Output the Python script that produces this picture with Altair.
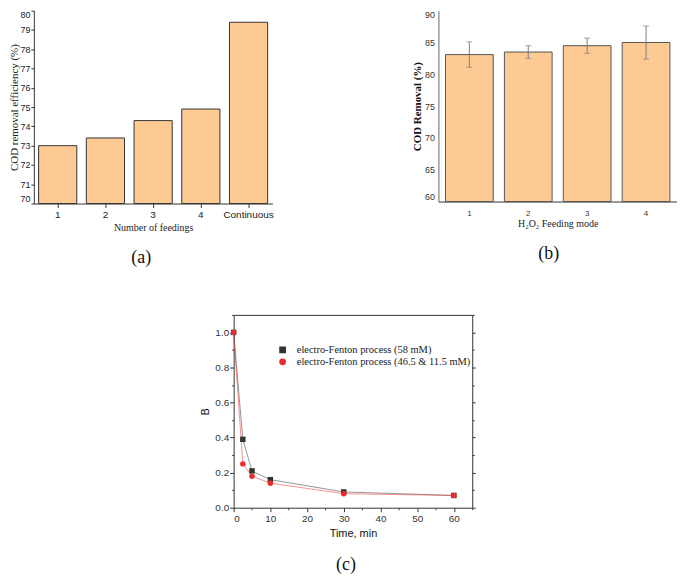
import altair as alt
import pandas as pd

# ---------------- data ----------------
feed_a = ["1", "2", "3", "4", "Continuous"]
eff_a = [73.0, 73.4, 74.3, 74.9, 79.4]

mode_b = ["1", "2", "3", "4"]
cod_b = [83.1, 83.5, 84.5, 85.0]
err_b = [2.0, 1.0, 1.2, 2.6]

time_c = [0, 2.5, 5, 10, 30, 60]
b_58 = [1.0, 0.39, 0.21, 0.16, 0.09, 0.07]
b_mix = [1.0, 0.25, 0.18, 0.14, 0.08, 0.07]
series_c = ["electro-Fenton process (58 mM)",
            "electro-Fenton process (46.5 & 11.5 mM)"]

SANS = "Liberation Sans"
SERIF = "Liberation Serif"
FILL = "#FDCA94"

# ---------------- panel (a) ----------------
df_a = pd.DataFrame({"feed": feed_a, "eff": eff_a})
panel_a = alt.Chart(df_a).mark_bar(fill=FILL, stroke="#333333", strokeWidth=1).encode(
    x=alt.X("feed:N", sort=feed_a,
            scale=alt.Scale(paddingInner=0.2, paddingOuter=0.1),
            axis=alt.Axis(title="Number of feedings", labelAngle=0, labelFont=SANS,
                          labelFontSize=10, labelColor="#222", titleFont=SERIF,
                          titleFontSize=10, titleFontWeight="normal", titleColor="#222",
                          tickSize=4, tickColor="#333", domainColor="#333",
                          labelPadding=2, titlePadding=3)),
    y=alt.Y("eff:Q", scale=alt.Scale(domain=[70, 80], nice=False, zero=False),
            axis=alt.Axis(title="COD removal efficiency (%)", values=list(range(70, 81)),
                          labelFont=SANS, labelFontSize=9, labelColor="#222",
                          titleFont=SERIF, titleFontSize=11, titleFontWeight="normal",
                          titleColor="#222", tickSize=3, tickColor="#333",
                          domainColor="#333", labelPadding=1, titlePadding=0,
                          grid=False, labelFlush=True)),
    y2=alt.datum(70),
).properties(
    width=240, height=194,
    title=alt.TitleParams("(a)", orient="bottom", anchor="middle", font=SERIF,
                          fontSize=18, fontWeight="normal", color="#111", offset=17, dx=-12),
)

# ---------------- panel (b) ----------------
df_b = pd.DataFrame({"mode": mode_b, "cod": cod_b, "err": err_b})
df_b["lo"] = df_b["cod"] - df_b["err"]
df_b["hi"] = df_b["cod"] + df_b["err"]

xb_axis = alt.Axis(title="H₂O₂ Feeding mode", labelAngle=0, labelFont=SANS, labelFontSize=8,
                   labelColor="#333", titleFont=SERIF, titleFontSize=10,
                   titleFontWeight="normal", titleColor="#222", ticks=False,
                   domainColor="#333", labelPadding=8, titlePadding=1)
yb_axis = alt.Axis(title="COD Removal (%)", values=list(range(60, 91, 5)), labelFont=SANS,
                   labelFontSize=9, labelColor="#333", titleFont=SERIF, titleFontSize=11,
                   titleFontWeight="bold", titleColor="#111", ticks=False,
                   domainColor="#666", labelPadding=4, titlePadding=2, grid=False,
                   labelFlush=True)
xb_scale = alt.Scale(paddingInner=0.19, paddingOuter=0.12)
yb_scale = alt.Scale(domain=[60, 90], nice=False, zero=False)

base_b = alt.Chart(df_b)
bars_b = base_b.mark_bar(fill=FILL, stroke="#555555", strokeWidth=1).encode(
    x=alt.X("mode:N", scale=xb_scale, axis=xb_axis),
    y=alt.Y("cod:Q", scale=yb_scale, axis=yb_axis),
    y2=alt.datum(60),
)
rule_b = base_b.mark_rule(color="#808080", strokeWidth=1).encode(
    x=alt.X("mode:N", scale=xb_scale, axis=xb_axis),
    y=alt.Y("lo:Q", scale=yb_scale, axis=yb_axis),
    y2="hi:Q",
)
cap_lo = base_b.mark_tick(color="#808080", size=6, thickness=1).encode(
    x=alt.X("mode:N", scale=xb_scale, axis=xb_axis),
    y=alt.Y("lo:Q", scale=yb_scale, axis=yb_axis),
)
cap_hi = base_b.mark_tick(color="#808080", size=6, thickness=1).encode(
    x=alt.X("mode:N", scale=xb_scale, axis=xb_axis),
    y=alt.Y("hi:Q", scale=yb_scale, axis=yb_axis),
)
panel_b = alt.layer(bars_b, rule_b, cap_lo, cap_hi).properties(
    width=240, height=192,
    title=alt.TitleParams("(b)", orient="bottom", anchor="middle", font=SERIF,
                          fontSize=18, fontWeight="normal", color="#111", offset=17, dx=-9),
)

# ---------------- panel (c) ----------------
df_c = pd.DataFrame({
    "t": time_c + time_c,
    "B": b_58 + b_mix,
    "series": [series_c[0]] * len(time_c) + [series_c[1]] * len(time_c),
})
xc_scale = alt.Scale(domain=[0, 65], nice=False, zero=False)
yc_scale = alt.Scale(domain=[0, 1.1], nice=False, zero=False)
color_c = alt.Scale(domain=series_c, range=["#333333", "#EE2B2B"])
shape_c = alt.Scale(domain=series_c, range=["square", "circle"])

x_vals = list(range(0, 66, 5))
y_vals = [i / 10 for i in range(0, 12)]

xc_axis = alt.Axis(title="Time, min", values=x_vals,
                   labelExpr="datum.value % 10 === 0 ? datum.label : ''",
                   tickSize={"condition": {"test": "datum.value % 10 !== 0", "value": 2}, "value": 4},
                   labelFont=SANS, labelFontSize=10, labelColor="#333", titleFont=SANS,
                   titleFontSize=11, titleFontWeight="normal", titleColor="#111",
                   tickColor="#333", domainColor="#333", labelPadding=2, titlePadding=4,
                   grid=False, format="d")
yc_axis = alt.Axis(title="B", values=y_vals,
                   labelExpr="round(datum.value * 10) % 2 === 0 ? format(datum.value, '.1f') : ''",
                   tickSize={"condition": {"test": "round(datum.value * 10) % 2 !== 0", "value": 2}, "value": 4},
                   labelFont=SANS, labelFontSize=10, labelColor="#333", titleFont=SANS,
                   titleFontSize=11, titleFontWeight="normal", titleColor="#111",
                   tickColor="#333", domainColor="#333", labelPadding=1, titlePadding=4,
                   grid=False)
xc_top = alt.Axis(orient="top", title=None, labels=False, ticks=False, domainColor="#333",
                  grid=False)
yc_right = alt.Axis(orient="right", title=None, labels=False, values=y_vals,
                    tickSize={"condition": {"test": "round(datum.value * 10) % 2 !== 0", "value": 2}, "value": 3},
                    tickColor="#333", domainColor="#333", grid=False)

legend_c = alt.Legend(title=None, orient="none", legendX=44, legendY=30, labelFont=SERIF,
                      labelFontSize=10.5, labelColor="#222", symbolSize=28, rowPadding=0,
                      labelOffset=9, labelLimit=400, symbolOffset=0, padding=0)

lines_c = alt.Chart(df_c).mark_line(strokeWidth=0.8, strokeOpacity=0.65).encode(
    x=alt.X("t:Q", scale=xc_scale, axis=xc_axis),
    y=alt.Y("B:Q", scale=yc_scale, axis=yc_axis),
    color=alt.Color("series:N", scale=color_c, legend=legend_c),
)
points_c = alt.Chart(df_c).mark_point(filled=True, size=30, opacity=1).encode(
    x=alt.X("t:Q", scale=xc_scale, axis=None),
    y=alt.Y("B:Q", scale=yc_scale, axis=None),
    color=alt.Color("series:N", scale=color_c, legend=legend_c),
    shape=alt.Shape("series:N", scale=shape_c, legend=legend_c),
)
frame_c = alt.Chart(df_c).mark_point(opacity=0, size=0).encode(
    x=alt.X("t:Q", scale=xc_scale, axis=xc_top),
    y=alt.Y("B:Q", scale=yc_scale, axis=yc_right),
)
panel_c = alt.layer(lines_c, points_c, frame_c).resolve_axis(
    x="independent", y="independent"
).properties(
    width=240, height=194,
    title=alt.TitleParams("(c)", orient="bottom", anchor="middle", font=SERIF,
                          fontSize=18, fontWeight="normal", color="#111", offset=18, dx=-7),
)

spacer = alt.Chart(pd.DataFrame({"v": [0]})).mark_point(opacity=0, size=0).encode(
    x=alt.value(0), y=alt.value(0)
).properties(width=167, height=10)

top_row = alt.hconcat(panel_a, panel_b, spacing=138)
bottom_row = alt.hconcat(spacer, panel_c, spacing=0).resolve_legend(
    color="independent", shape="independent")

chart = alt.vconcat(top_row, bottom_row, spacing=47).resolve_legend(
    color="independent", shape="independent"
).properties(
    padding={"left": 0, "top": 0, "right": 0, "bottom": 0}, background="white"
).configure_view(stroke=None)

chart.save("out.html", embed_options={"renderer": "svg", "actions": False})
